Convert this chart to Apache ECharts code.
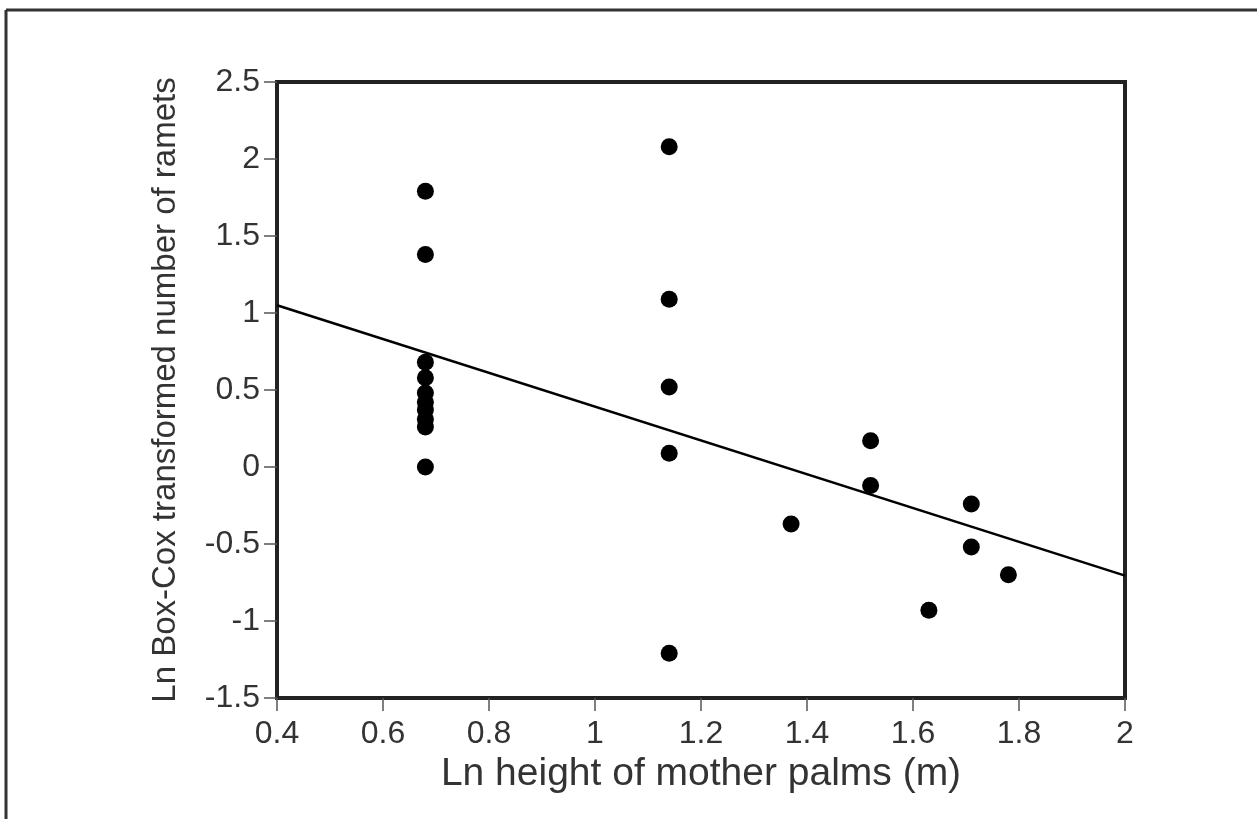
<!DOCTYPE html>
<html lang="en">
<head>
  <meta charset="UTF-8">
  <title>Ramets vs height of mother palms</title>
  <script src="https://cdn.jsdelivr.net/npm/echarts@6/dist/echarts.min.js"></script>
  <style>
    html, body { margin: 0; padding: 0; background: #fff; }
    #chart { width: 1257px; height: 819px; }
  </style>
</head>
<body>
<div id="chart"></div>
<script>
  // data
  const heightLn = [0.68, 0.68, 0.68, 0.68, 0.68, 0.68, 0.68, 0.68, 0.68, 0.68,
                    1.14, 1.14, 1.14, 1.14, 1.14,
                    1.37, 1.52, 1.52, 1.63, 1.71, 1.71, 1.78];
  const rametsBC = [1.79, 1.38, 0.68, 0.58, 0.48, 0.42, 0.37, 0.31, 0.26, 0.0,
                    2.08, 1.09, 0.52, 0.09, -1.21,
                    -0.37, 0.17, -0.12, -0.93, -0.24, -0.52, -0.70];
  // fitted line end points
  const fitX = [0.4, 2.0];
  const fitY = [1.05, -0.705];
  // axis ticks
  const xTicks = [0.4, 0.6, 0.8, 1, 1.2, 1.4, 1.6, 1.8, 2];
  const yTicks = [-1.5, -1, -0.5, 0, 0.5, 1, 1.5, 2, 2.5];

  const font = '"Liberation Sans", Arial, sans-serif';
  const ink = '#222';

  const chart = echarts.init(document.getElementById('chart'));

  const axisCommon = {
    type: 'value',
    nameLocation: 'middle',
    axisLine: { show: true, onZero: false, lineStyle: { color: ink, width: 4 } },
    axisTick: { show: true, inside: false, length: 13, lineStyle: { color: '#555', width: 1.5 } },
    axisLabel: { fontFamily: font, fontSize: 32, color: '#333' },
    splitLine: { show: false }
  };

  chart.setOption({
    backgroundColor: '#fff',
    animation: false,
    grid: {
      left: 277, right: 132, top: 82, bottom: 121,
      show: true, borderColor: ink, borderWidth: 4, backgroundColor: 'transparent'
    },
    graphic: [
      { type: 'line', shape: { x1: 6, y1: 10, x2: 1257, y2: 10 }, style: { stroke: '#333', lineWidth: 3 } },
      { type: 'line', shape: { x1: 6, y1: 10, x2: 6, y2: 819 }, style: { stroke: '#333', lineWidth: 3 } }
    ],
    xAxis: Object.assign({}, axisCommon, {
      name: 'Ln height of mother palms (m)',
      nameGap: 50,
      nameTextStyle: { fontFamily: font, fontSize: 39, color: '#333' },
      min: xTicks[0], max: xTicks[xTicks.length - 1], interval: 0.2,
      axisLabel: Object.assign({}, axisCommon.axisLabel, { margin: 20 })
    }),
    yAxis: Object.assign({}, axisCommon, {
      name: 'Ln Box-Cox transformed number of ramets',
      nameGap: 95,
      nameTextStyle: { fontFamily: font, fontSize: 33, color: '#333' },
      min: yTicks[0], max: yTicks[yTicks.length - 1], interval: 0.5,
      axisLabel: Object.assign({}, axisCommon.axisLabel, { margin: 17 })
    }),
    series: [
      {
        type: 'line',
        data: fitX.map((x, i) => [x, fitY[i]]),
        symbol: 'none',
        lineStyle: { color: '#000', width: 2.5 },
        z: 2
      },
      {
        type: 'scatter',
        data: heightLn.map((x, i) => [x, rametsBC[i]]),
        symbolSize: 17,
        itemStyle: { color: '#000', opacity: 1 },
        z: 3
      }
    ]
  });
</script>
</body>
</html>
